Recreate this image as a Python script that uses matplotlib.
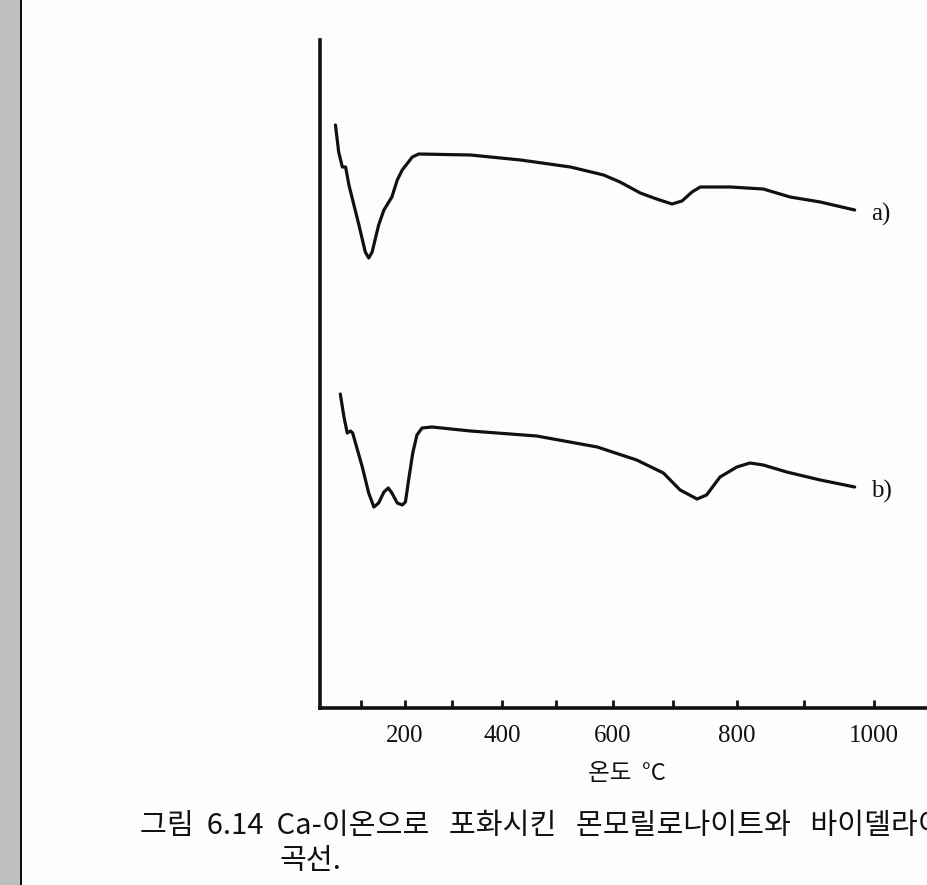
import numpy as np
import matplotlib
matplotlib.use('Agg')
import matplotlib.pyplot as plt
from matplotlib.patches import Rectangle

# DTA curves (temperature in degC, signal in arbitrary units)
temp_a = [39, 47, 56, 64, 72, 96, 111, 119, 127, 142, 154, 172, 184, 195, 217, 231,
          338, 435, 526, 584, 612, 646, 673, 698, 714, 730, 743, 790, 840, 880, 924, 973]
signal_a = [583, 556, 541, 541, 523, 483, 456, 450, 456, 483, 498, 511, 528, 538, 551, 554,
            553, 548, 541, 533, 526, 515, 509, 504, 507, 516, 521, 521, 519, 511, 506, 498]

temp_b = [51, 60, 68, 76, 81, 104, 119, 131, 142, 154, 164, 172, 184, 195, 202, 209, 218,
          227, 238, 259, 338, 465, 573, 640, 684, 711, 738, 753, 774, 800, 820, 840, 875, 924, 973]
signal_b = [314, 291, 275, 277, 275, 241, 215, 201, 205, 216, 220, 215, 205, 203, 206, 228, 255,
            273, 280, 281, 277, 272, 261, 248, 235, 218, 209, 213, 231, 241, 245, 243, 236, 228, 221]

major_ticks = [200, 400, 600, 800, 1000]
minor_ticks = [100, 300, 500, 700, 900]
x_label = '온도  °C'
# the scan cuts the caption off at the right edge
caption_1 = '그림  6.14  Ca-이온으로   포화시킨   몬모릴로나이트와   바이델라이'
caption_2 = '곡선.'

kr = ['Noto Sans CJK KR', 'DejaVu Sans']
serif = 'Liberation Serif'


# the temperature axis of the original is not linear
def fwd(t):
    t = np.asarray(t, dtype=float)
    return 0.39 * t + 0.0001644 * t * t


def inv(y):
    y = np.asarray(y, dtype=float)
    return (np.sqrt(np.clip(0.1521 + 0.0006576 * y, 0, None)) - 0.39) / 0.0003288


fig = plt.figure(figsize=(9.28, 8.85), dpi=100, facecolor='#fdfdfd')

# grey page margin on the left
fig.add_artist(Rectangle((0, 0), 20 / 928, 1, transform=fig.transFigure,
                         facecolor='#bebebe', edgecolor='none'))
fig.add_artist(Rectangle((20 / 928, 0), 2 / 928, 1, transform=fig.transFigure,
                         facecolor='#111111', edgecolor='none'))

ax = fig.add_axes([320 / 928, 177 / 885, 1 - 320 / 928, 668 / 885])
ax.set_facecolor('none')
ax.set_xscale('function', functions=(fwd, inv))
ax.set_xlim(0, 1074)
ax.set_ylim(0, 668)

for t, s in ((temp_a, signal_a), (temp_b, signal_b)):
    ax.plot(t, s, color='#111111', lw=2.3, solid_joinstyle='round', solid_capstyle='round')

ax.annotate('a)', xy=(temp_a[-1], signal_a[-1]), xytext=(12, -3), textcoords='offset points',
            ha='left', va='center', fontsize=18, family=serif, color='#111111')
ax.annotate('b)', xy=(temp_b[-1], signal_b[-1]), xytext=(12, -3), textcoords='offset points',
            ha='left', va='center', fontsize=18, family=serif, color='#111111')

for side in ('top', 'right'):
    ax.spines[side].set_visible(False)
for side in ('left', 'bottom'):
    ax.spines[side].set_linewidth(2.6)
    ax.spines[side].set_color('#111111')

ax.set_yticks([])
ax.set_xticks(major_ticks)
ax.set_xticks(minor_ticks, minor=True)
ax.set_xticklabels([str(v) for v in major_ticks])
ax.tick_params(axis='x', which='both', direction='in', length=6, width=2,
               color='#111111', pad=12, labelsize=18, labelcolor='#111111')
for lbl in ax.get_xticklabels():
    lbl.set_fontfamily(serif)

fig.text(627 / 928, 1 - 773 / 885, x_label, ha='center', va='center',
         fontsize=17, family=kr, color='#111111')
fig.text(140 / 928, 1 - 826 / 885, caption_1, ha='left', va='center',
         fontsize=21, family=kr, color='#111111')
fig.text(280 / 928, 1 - 861 / 885, caption_2, ha='left', va='center',
         fontsize=21, family=kr, color='#111111')

fig.savefig('out.png', dpi=100, facecolor=fig.get_facecolor())
